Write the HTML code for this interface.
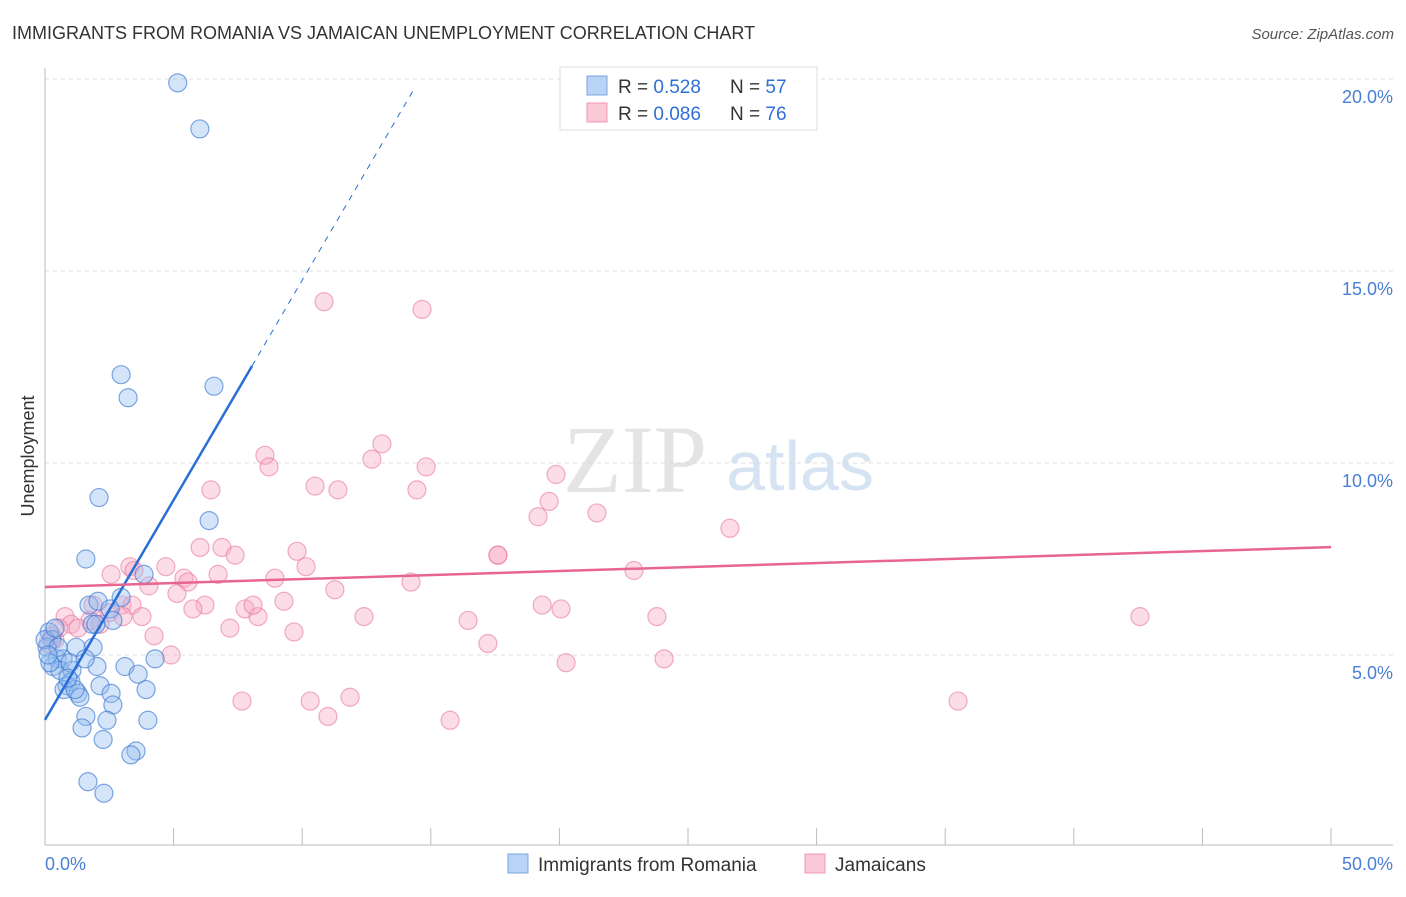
<!DOCTYPE html>
<html><head><meta charset="utf-8"><style>
body{margin:0;background:#fff;font-family:"Liberation Sans",sans-serif;}
</style></head><body>
<svg width="1406" height="892" xmlns="http://www.w3.org/2000/svg" font-family="Liberation Sans, sans-serif">
<text x="12" y="39" font-size="18" fill="#333">IMMIGRANTS FROM ROMANIA VS JAMAICAN UNEMPLOYMENT CORRELATION CHART</text>
<text x="1394" y="39" font-size="15" fill="#555" font-style="italic" text-anchor="end">Source: ZipAtlas.com</text>
<g><text x="635" y="492" font-size="96" font-family="Liberation Serif, serif" fill="#e4e4e4" text-anchor="middle">ZIP</text><text x="800" y="490" font-size="70" fill="#d6e3f3" text-anchor="middle">atlas</text></g>
<g id="grid"></g>
<line x1="45" y1="68" x2="45" y2="845" stroke="#bbb"/>
<line x1="45" y1="845" x2="1393" y2="845" stroke="#bbb"/>
<g id="xticks"></g>
<text x="45" y="870" font-size="18" fill="#4a7fd4">0.0%</text>
<text x="1393" y="870" font-size="18" fill="#4a7fd4" text-anchor="end">50.0%</text>
<text x="34" y="456" font-size="18" fill="#333" text-anchor="middle" transform="rotate(-90 34 456)">Unemployment</text>
<g id="pts"></g>
<g id="lines"></g>
<g>
<rect x="560" y="67" width="257" height="63" fill="#fff" stroke="#ddd"/>
<rect x="587" y="76" width="20" height="19" fill="#b8d3f5" stroke="#7aa6e0"/>
<rect x="587" y="103" width="20" height="19" fill="#fac8d6" stroke="#f09ab3"/>
<text x="618" y="93" font-size="19" fill="#333">R = <tspan fill="#2f6fd6">0.528</tspan><tspan x="730">N = </tspan><tspan fill="#2f6fd6">57</tspan></text>
<text x="618" y="120" font-size="19" fill="#333">R = <tspan fill="#2f6fd6">0.086</tspan><tspan x="730">N = </tspan><tspan fill="#2f6fd6">76</tspan></text>
</g>
<g>
<rect x="508" y="854" width="20" height="19" fill="#b8d3f5" stroke="#7aa6e0"/>
<text x="538" y="871" font-size="19" fill="#333">Immigrants from Romania</text>
<rect x="805" y="854" width="20" height="19" fill="#fac8d6" stroke="#f09ab3"/>
<text x="835" y="871" font-size="19" fill="#333">Jamaicans</text>
</g>
</svg>
<script>
const yTicks=[5,10,15,20];
const yTickLabels=["5.0%","10.0%","15.0%","20.0%"];
const xTicks=[0,5,10,15,20,25,30,35,40,45,50];
const romaniaX=[5.16,6.02,2.96,3.23,6.57,2.10,6.38,1.59,3.85,2.96,1.71,2.06,2.53,2.64,1.83,1.98,0.16,0.27,0.08,1.87,1.21,4.28,0.47,0.70,2.02,3.11,0.31,0.58,1.05,3.62,2.14,0.86,1.01,3.93,0.74,1.28,1.36,2.57,2.64,1.59,2.41,4.00,1.44,2.26,3.54,3.34,1.67,2.29,0.0,0.19,0.97,0.51,1.56,0.12,0.39,1.17,0.89];
const romaniaY=[19.9,18.7,12.3,11.7,12.0,9.1,8.5,7.5,7.1,6.5,6.3,6.4,6.2,5.9,5.8,5.8,5.6,5.4,5.2,5.2,5.2,4.9,4.9,4.9,4.7,4.7,4.7,4.6,4.6,4.5,4.2,4.2,4.3,4.1,4.1,4.0,3.9,4.0,3.7,3.4,3.3,3.3,3.1,2.8,2.5,2.4,1.7,1.4,5.4,4.8,4.8,5.2,4.9,5.0,5.7,4.1,4.4];
const jamX=[10.85,14.66,13.10,8.55,8.71,12.71,14.82,19.87,10.50,6.45,11.39,14.46,19.60,19.17,21.46,26.63,6.03,6.88,7.39,9.80,17.61,17.61,3.30,2.57,4.70,3.46,5.40,5.56,6.73,8.94,10.15,14.23,22.90,4.04,5.13,11.27,2.99,1.87,2.49,3.38,3.77,3.03,6.22,5.75,7.78,8.28,8.09,9.29,12.40,16.45,19.33,20.06,23.79,42.57,0.78,1.75,1.01,0.54,2.14,1.28,0.39,4.24,7.19,9.68,17.22,4.90,24.07,20.26,7.66,10.31,11.86,11.00,15.75,35.50,0.27,0.12];
const jamY=[14.2,14.0,10.5,10.2,9.9,10.1,9.9,9.7,9.4,9.3,9.3,9.3,9.0,8.6,8.7,8.3,7.8,7.8,7.6,7.7,7.6,7.6,7.3,7.1,7.3,7.2,7.0,6.9,7.1,7.0,7.3,6.9,7.2,6.8,6.6,6.7,6.3,6.3,6.1,6.3,6.0,6.0,6.3,6.2,6.2,6.0,6.3,6.4,6.0,5.9,6.3,6.2,6.0,6.0,6.0,5.9,5.8,5.7,5.8,5.7,5.4,5.5,5.7,5.6,5.3,5.0,4.9,4.8,3.8,3.8,3.9,3.4,3.3,3.8,5.5,5.3];
const romFit=[3.31,1.145];
const jamFit=[6.77,0.0208];
const X=v=>45+v*25.72, Y=v=>847-v*38.4;
const NS="http://www.w3.org/2000/svg";
function mk(t,a,p){const e=document.createElementNS(NS,t);for(const k in a)e.setAttribute(k,a[k]);p.appendChild(e);return e;}
const grid=document.getElementById('grid');
yTicks.forEach((t,i)=>{
 const l=mk('line',{x1:45,x2:1393,y1:Y(t),y2:Y(t),stroke:'#ddd','stroke-dasharray':'4,4'},grid);
 
 
 const tx=mk('text',{x:1393,y:Y(t)+24,'font-size':18,fill:'#4a7fd4','text-anchor':'end'},grid);
 tx.textContent=yTickLabels[i];
 
 
});
const xt=document.getElementById('xticks');
xTicks.forEach(t=>{
 const l=mk('line',{x1:X(t),x2:X(t),y1:828,y2:845,stroke:'#bbb'},xt);
 
 
});
const pts=document.getElementById('pts');
jamX.forEach((x,i)=>{
 const c=mk('circle',{cx:X(x),cy:Y(jamY[i]),r:9,fill:'rgba(247,170,195,0.4)',stroke:'rgba(232,120,155,0.6)','stroke-width':1.2},pts);
 
 
});
romaniaX.forEach((x,i)=>{
 const c=mk('circle',{cx:X(x),cy:Y(romaniaY[i]),r:9,fill:'rgba(150,190,240,0.4)',stroke:'rgba(60,120,210,0.65)','stroke-width':1.2},pts);
 
 
});
const ln=document.getElementById('lines');
const f=(p,x)=>p[0]+p[1]*x;
let a=mk('line',{x1:X(0),y1:Y(f(romFit,0)),x2:X(8.05),y2:Y(f(romFit,8.05)),stroke:'#2a6fd6','stroke-width':2.5},ln);


let b=mk('line',{x1:X(8.05),y1:Y(f(romFit,8.05)),x2:X(14.3),y2:Y(f(romFit,14.3)),stroke:'#2a6fd6','stroke-width':1,'stroke-dasharray':'6,6'},ln);


let c=mk('line',{x1:X(0),y1:Y(f(jamFit,0)),x2:X(50),y2:Y(f(jamFit,50)),stroke:'#e8658f','stroke-width':2.5},ln);


</script>
</body></html>
